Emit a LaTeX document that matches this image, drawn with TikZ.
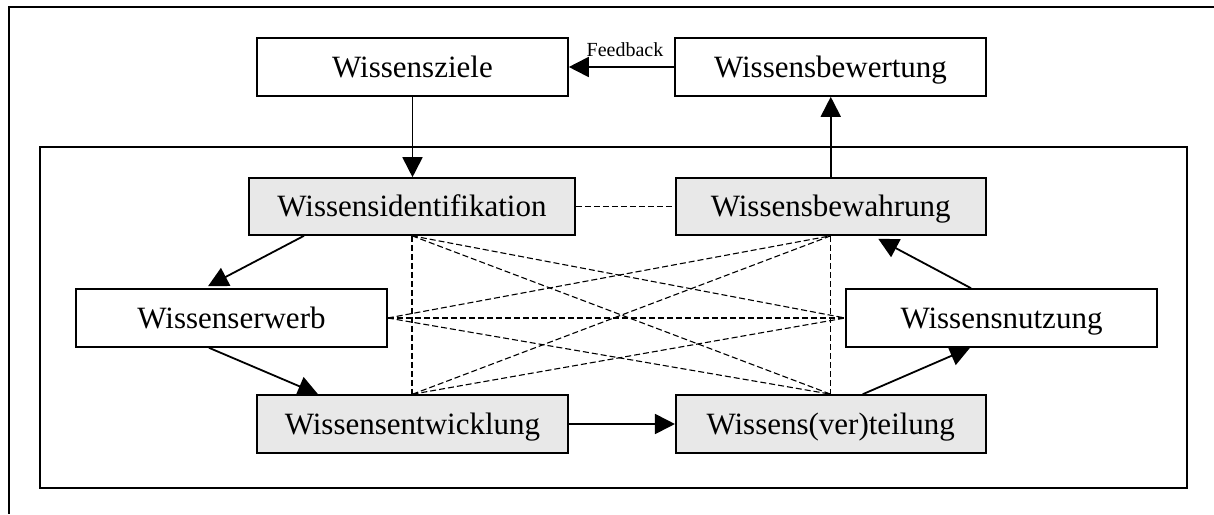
\documentclass[tikz,border=0pt]{standalone}
\usepackage{fontspec}
\setmainfont{Liberation Serif}
\usetikzlibrary{arrows.meta}
\definecolor{boxgray}{RGB}{232,232,232}
\begin{document}
\begin{tikzpicture}[x=1pt,y=-1pt,
  box/.style={draw, line width=1.6pt, minimum width=311pt, minimum height=58pt,
    inner sep=0pt, text height=20.4pt, text depth=0pt,
    font=\fontsize{31}{36}\selectfont},
  shaded/.style={box, fill=boxgray},
  plain/.style={box, fill=white},
  flow/.style={line width=1.8pt, -{Triangle[length=20pt,width=20pt]}},
  link/.style={line width=1.1pt, dash pattern=on 6pt off 3pt},
  frame/.style={line width=1.6pt}]
\useasboundingbox (0,0) rectangle (1214,514);

% outer and inner frames
\draw[frame] (1214,7) -- (9,7) -- (9,514);
\draw[frame] (40,147) rectangle (1187,488);

% process steps
\node[plain] (ziele) at (412.5,67) {Wissensziele};
\node[plain] (bewert) at (830.5,67) {Wissensbewertung};
\node[shaded, minimum width=326pt, minimum height=57pt] (ident) at (412,206.5) {Wissensidentifikation};
\node[shaded, minimum width=310pt, minimum height=57pt] (bewahr) at (830.75,206.5) {Wissensbewahrung};
\node[plain] (erwerb) at (231.5,318) {Wissenserwerb};
\node[plain] (nutz) at (1001.5,318) {Wissensnutzung};
\node[shaded] (entw) at (412.5,424) {Wissensentwicklung};
\node[shaded, minimum width=310pt] (teil) at (830.75,424) {Wissens(ver)teilung};

% cross links between the core building blocks
\draw[link] (ident.east) -- (bewahr.west);
\draw[link] (ident.south) -- (ident.south |- entw.north);
\draw[link] (bewahr.south) -- (teil.north);
\draw[link] (erwerb.east) -- (nutz.west);
\draw[link] (ident.south) -- (teil.north);
\draw[link] (ident.south) -- (nutz.west);
\draw[link] (erwerb.east) -- (bewahr.south);
\draw[link] (erwerb.east) -- (teil.north);
\draw[link] (entw.north) -- (bewahr.south);
\draw[link] (entw.north) -- (nutz.west);

% main flow
\draw[flow] (ziele.south) -- (ziele.south |- ident.north);
\draw[flow] (bewahr.north) -- (bewahr.north |- bewert.south);
\draw[flow] (bewert.west) -- node[midway, anchor=base, yshift=11pt, xshift=3.5pt,
  font=\fontsize{20}{24}\selectfont] {Feedback} (ziele.east);
\draw[flow] ([xshift=-108pt]ident.south) -- ([xshift=-23.5pt,yshift=2pt]erwerb.north);
\draw[flow] ([xshift=-22.5pt]erwerb.south) -- ([xshift=-94.5pt]entw.north);
\draw[flow] (entw.east) -- (teil.west);
\draw[flow] ([xshift=32pt]teil.north) -- ([xshift=-31.5pt]nutz.south);
\draw[flow] ([xshift=-30.5pt]nutz.north) -- ([xshift=47.5pt,yshift=-3pt]bewahr.south);
\end{tikzpicture}
\end{document}
